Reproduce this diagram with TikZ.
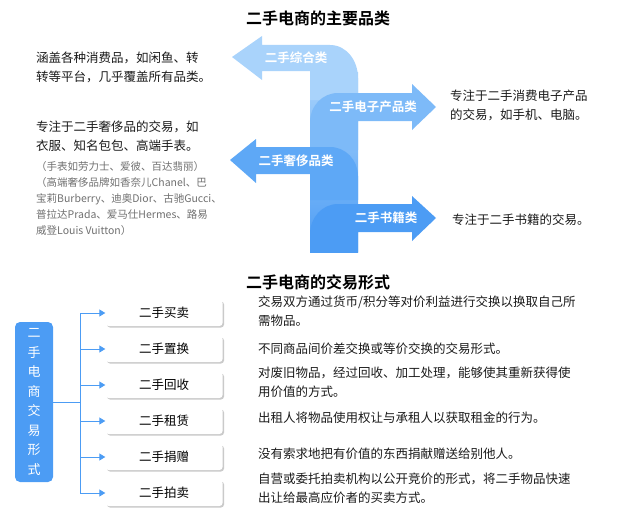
\documentclass[tikz,border=0pt]{standalone}
\usepackage{fontspec}
\setmainfont{Noto Sans CJK SC}
\newfontfamily\cjkb{Noto Sans CJK SC Bold}
\usetikzlibrary{shadows,arrows.meta}
\definecolor{b1}{HTML}{A9D3FB}
\definecolor{b2}{HTML}{7DBAF8}
\definecolor{b3}{HTML}{5EA8F6}
\definecolor{b4}{HTML}{4C9CF4}
\definecolor{txt}{HTML}{1A1A1A}
\definecolor{gtxt}{HTML}{707070}
\begin{document}
\begin{tikzpicture}[x=1pt,y=-1pt,
  body/.style={font=\fontsize{12.5}{19}\selectfont, text=txt, anchor=north west, align=left, inner sep=0pt},
  small/.style={font=\fontsize{10.5}{16}\selectfont, text=gtxt, anchor=north west, align=left, inner sep=0pt},
  ttl/.style={font=\cjkb\fontsize{16}{18}\selectfont, text=black},
  alab/.style={font=\cjkb\fontsize{12.5}{14}\selectfont, text=white},
  sbox/.style={draw=none, fill=white, rounded corners=3pt, minimum width=117, minimum height=26, font=\fontsize{12.5}{14}\selectfont, drop shadow={shadow xshift=1.5pt, shadow yshift=-1.5pt, fill=black!35, opacity=.6}},
  conn/.style={draw=b4, line width=1pt},
  arr/.style={conn, -{Triangle[length=6pt,width=7pt]}}]
\useasboundingbox (0,0) rectangle (626,519);
\node[ttl] (t1) at (318,18) {二手电商的主要品类};
% stem
\shade[top color=b1, bottom color=b4] (310,72) rectangle (358,252);
% arrow 1 left
\fill[b1] (232,57) -- (262,36) -- (262,45) -- (330,45) to[out=0,in=90] (358,78) -- (358,100) -- (310,100) -- (310,71) -- (262,71) -- (262,80) -- cycle;
\node[alab] (a1) at (296,58) {二手综合类};
% arrow 2 right
\fill[b2] (436,107) -- (412,84) -- (412,93) -- (338,93) to[out=180,in=90] (310,122) -- (310,150) -- (358,150) -- (358,121) -- (412,121) -- (412,130) -- cycle;
\node[alab] (a2) at (373,107) {二手电子产品类};
% arrow 3 left
\fill[b3] (230,160) -- (256,139) -- (256,147) -- (330,147) to[out=0,in=90] (358,176) -- (358,200) -- (310,200) -- (310,174) -- (256,174) -- (256,183) -- cycle;
\node[alab] (a3) at (296,161) {二手奢侈品类};
% arrow 4 right
\fill[b4] (436,218) -- (412,196) -- (412,204) -- (338,204) to[out=180,in=90] (310,234) -- (310,252) -- (358,252) -- (358,232) -- (412,232) -- (412,241) -- cycle;
\node[alab] (a4) at (386,218) {二手书籍类};
% texts
\node[body] (d1) at (36,52) {涵盖各种消费品，如闲鱼、转\\转等平台，几乎覆盖所有品类。};
\node[body] (d3) at (36,121) {专注于二手奢侈品的交易，如\\衣服、知名包包、高端手表。};
\node[small] (d3b) at (36,161) {（手表如劳力士、爱彼、百达翡丽）\\（高端奢侈品牌如香奈儿Chanel、巴\\宝莉Burberry、迪奥Dior、古驰Gucci、\\普拉达Prada、爱马仕Hermes、路易\\威登Louis Vuitton）};
\node[body] (d2) at (450,90) {专注于二手消费电子产品\\的交易，如手机、电脑。};
\node[body] (d4) at (452,214) {专注于二手书籍的交易。};
% bottom
\node[ttl] (t2) at (318,282) {二手电商的交易形式};
\node[fill=b4, rounded corners=5pt, minimum width=38, minimum height=160, font=\fontsize{13}{19.5}\selectfont, text=white, align=center] (m) at (34,402) {二\\手\\电\\商\\交\\易\\形\\式};
\coordinate (j) at (80,402);
\draw[conn] (m.east) -- (j);
\draw[conn] (80,313) -- (80,493);
\foreach \i/\y/\t in {1/313/二手买卖,2/349/二手置换,3/385/二手回收,4/421/二手租赁,5/457/二手捐赠,6/493/二手拍卖}{
  \node[sbox] (s\i) at (164,\y) {\t};
  \coordinate (c\i) at (80,\y);
  \draw[arr] (c\i) -- (s\i.west);
}
\node[body] (r1) at (258,296) {交易双方通过货币/积分等对价利益进行交换以换取自己所\\需物品。};
\node[body] (r2) at (258,343) {不同商品间价差交换或等价交换的交易形式。};
\node[body] (r3) at (258,367) {对废旧物品，经过回收、加工处理，能够使其重新获得使\\用价值的方式。};
\node[body] (r4) at (258,412) {出租人将物品使用权让与承租人以获取租金的行为。};
\node[body] (r5) at (258,448) {没有索求地把有价值的东西捐献赠送给别他人。};
\node[body] (r6) at (258,473) {自营或委托拍卖机构以公开竞价的形式，将二手物品快速\\出让给最高应价者的买卖方式。};
\end{tikzpicture}
\end{document}
